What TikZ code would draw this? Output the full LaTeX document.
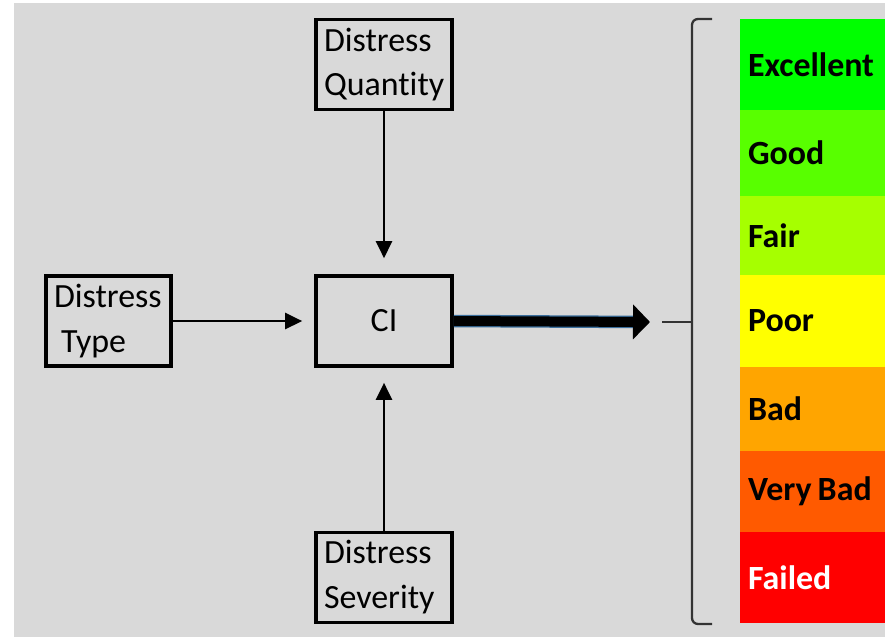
\documentclass[tikz,border=0pt]{standalone}
\usepackage{fontspec}
\setmainfont[Ligatures=NoCommon]{Carlito}
\usetikzlibrary{arrows.meta,positioning}

\definecolor{bggray}{HTML}{D9D9D9}
\definecolor{cexc}{HTML}{00FF00}
\definecolor{cgood}{HTML}{58FF00}
\definecolor{cfair}{HTML}{A6FF00}
\definecolor{cpoor}{HTML}{FFFF00}
\definecolor{cbad}{HTML}{FFA500}
\definecolor{cvbad}{HTML}{FF5A00}
\definecolor{cfail}{HTML}{FF0000}
\definecolor{arrblue}{HTML}{3A6E9C}

\begin{document}
\begin{tikzpicture}[x=0.02cm,y=-0.02cm,>={Triangle[length=0.34cm,width=0.32cm]},
        node distance=5.13cm,
        font=\fontsize{19.3}{25.6}\selectfont,
        box/.style={draw,line width=2.1pt,inner xsep=0.16cm,inner ysep=0pt,
                    minimum height=1.8cm,text width=2.4cm,align=left},
        band/.style={inner xsep=0.16cm,inner ysep=0pt,outer sep=0pt,
                     text width=2.9cm,align=left,font=\fontsize{19.3}{25.6}\selectfont\bfseries},
        flow/.style={->,line width=1.5pt}]

  \useasboundingbox (0,0) rectangle (885,637);
  \fill[bggray] (14,3) rectangle (885,637);

  % input boxes
  \node[box,align=center] (ci) at (384,321) {CI};
  \node[box] (qty) [above of=ci] {Distress\\Quantity};
  \node[box] (sev) [below of=ci] {Distress\\Severity};
  \node[box,text width=2.18cm] (type) [left of=ci,node distance=5.51cm] {Distress\\\hspace*{0.14cm}Type};

  \draw[flow,shorten >=0.32cm] (qty) -- (ci);
  \draw[flow,shorten >=0.3cm] (sev) -- (ci);
  \draw[flow,shorten >=0.24cm] (type) -- (ci);

  % condition scale
  \node[band,fill=cexc,minimum height=1.82cm,anchor=north west] (exc) at (740,19) {Excellent};
  \node[band,fill=cgood,minimum height=1.72cm,below=0pt of exc] (good) {Good};
  \node[band,fill=cfair,minimum height=1.58cm,below=0pt of good] (fair) {Fair};
  \node[band,fill=cpoor,minimum height=1.84cm,below=0pt of fair] (poor) {Poor};
  \node[band,fill=cbad,minimum height=1.68cm,below=0pt of poor] (bad) {Bad};
  \node[band,fill=cvbad,minimum height=1.62cm,below=0pt of bad] (vbad) {Very\hspace{0.18em}Bad};
  \node[band,fill=cfail,minimum height=1.82cm,below=0pt of vbad,text=white] (fail) {Failed};

  % brace
  \draw[line width=1.3pt,black!80,rounded corners=0.12cm] (712,19) -- (692,19) -- (692,624) -- (712,624);
  \coordinate (tip) at (662,322);
  \draw[line width=1.3pt,black!80] (tip) -- (692,322);

  \draw[->,line width=0.2cm,>={Triangle[length=0.34cm,width=0.68cm]},
        preaction={draw=arrblue,line width=0.25cm,shorten >=0.3cm,-}]
        (ci.east) -- ([xshift=-0.24cm]tip);

\end{tikzpicture}
\end{document}
